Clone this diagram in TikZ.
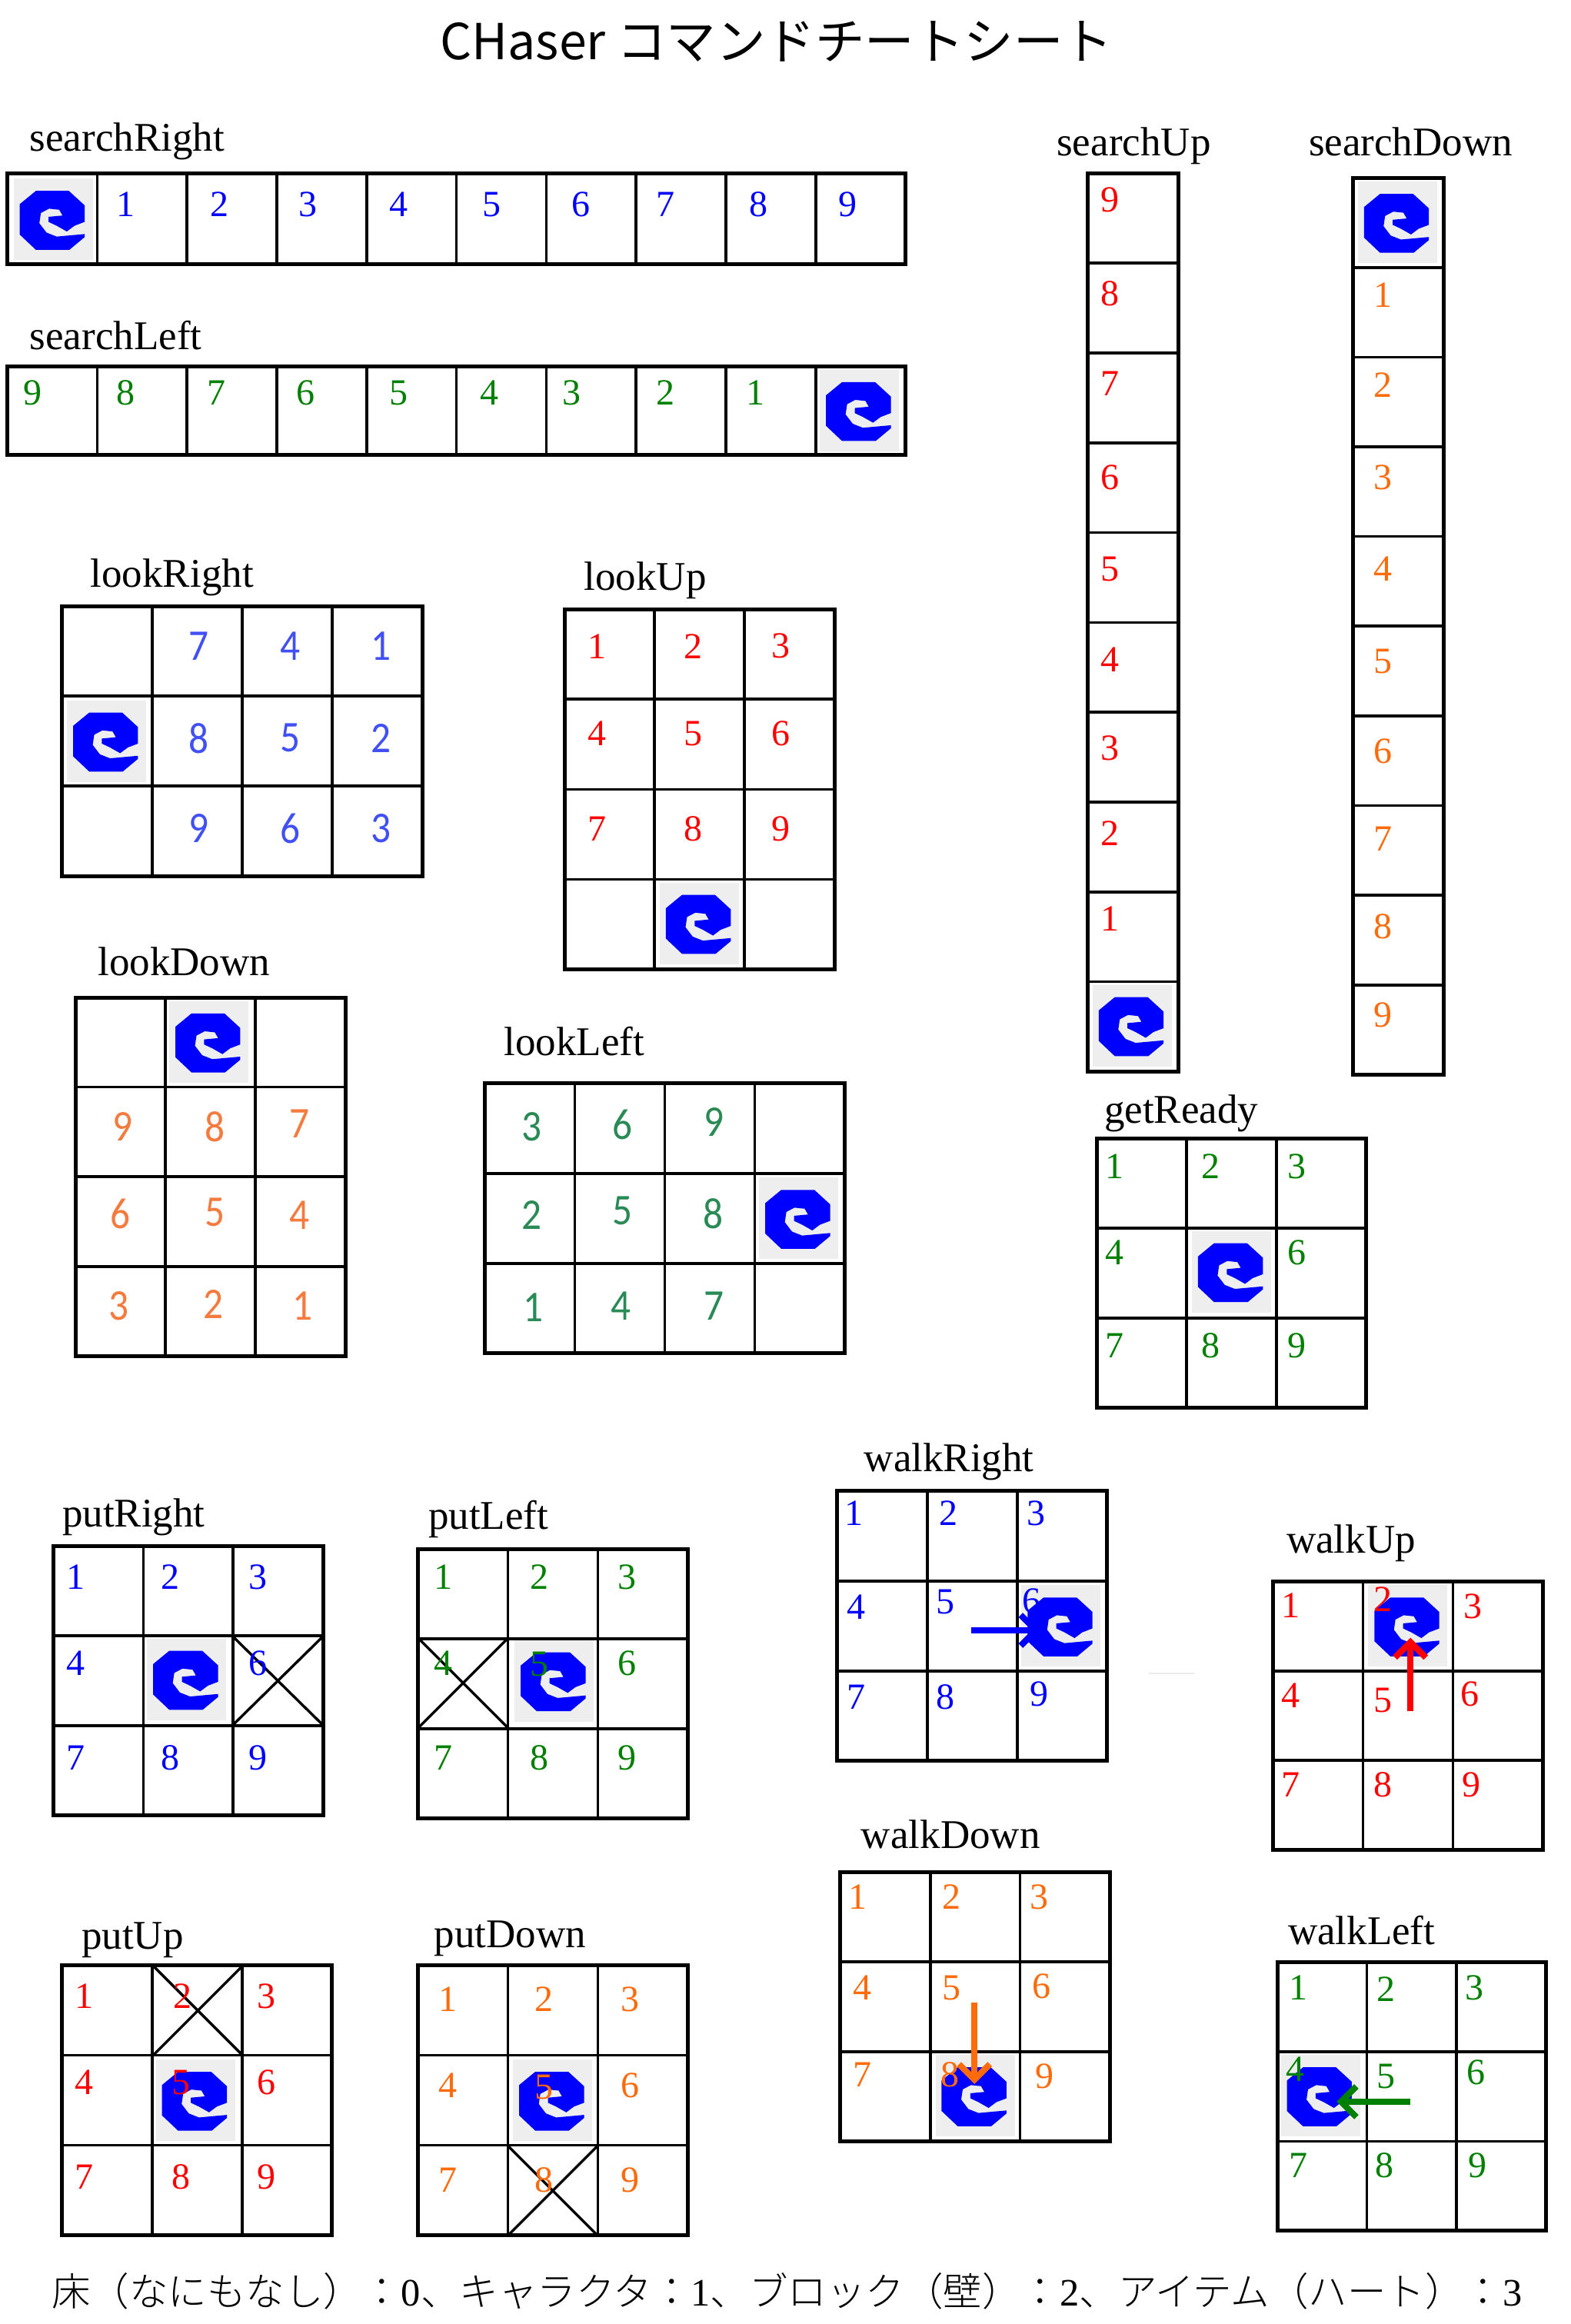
\documentclass[tikz,border=0pt]{standalone}
\usepackage{fontspec}
\setmainfont{Liberation Serif}
\newfontfamily\calib[FakeStretch=0.9]{Carlito}
\newfontfamily\jpsans{Noto Sans CJK JP}
\newfontfamily\jplight[UprightFont=* Light]{Noto Sans CJK JP}
\usetikzlibrary{arrows.meta}
\definecolor{cBlue}{HTML}{0000FF}
\definecolor{cGreen}{HTML}{008000}
\definecolor{cRed}{HTML}{FF0000}
\definecolor{cOrange}{HTML}{FF6A0A}
\definecolor{cLBlue}{HTML}{4050F4}
\definecolor{cLOrange}{HTML}{F47A3E}
\definecolor{cLGreen}{HTML}{2A8A55}
\definecolor{cIconBg}{HTML}{EEEEEE}
\tikzset{
  outerline/.style={draw=black,line width=5pt},
  innerline/.style={draw=black,line width=3.6pt},
  crossline/.style={draw=black,line width=3.4pt},
  cmdlabel/.style={anchor=base west,inner sep=0pt,font=\fontsize{53}{60}\selectfont},
  serifdigit/.style={inner sep=0pt,font=\fontsize{48}{56}\selectfont},
  calibdigit/.style={inner sep=0pt,font=\fontsize{57}{64}\selectfont\calib},
  robotbg/.style={fill=cIconBg,inner sep=0pt,minimum width=103pt,minimum height=106pt},
  movearrow/.style={line width=8pt,-{Straight Barb[length=20pt,width=40pt,line width=8pt]}},
}
\newcommand{\cellgrid}[6]{%x0 y0 x1 y1 cols rows
  \foreach \i in {1,...,#5}{\ifnum\i<#5\relax
    \pgfmathsetmacro{\xx}{#1+(#3-#1)*\i/#5}
    \draw[innerline] (\xx,#2) -- (\xx,#4);\fi}
  \foreach \i in {1,...,#6}{\ifnum\i<#6\relax
    \pgfmathsetmacro{\yy}{#2+(#4-#2)*\i/#6}
    \draw[innerline] (#1,\yy) -- (#3,\yy);\fi}
  \draw[outerline] (#1,#2) rectangle (#3,#4);
}
\newcommand{\robotback}[3]{\node[robotbg] (#1) at (#2,#3) {};}
\newcommand{\robotblob}[2]{%
  \begin{scope}[shift={(#1,#2)},x=1pt,y=-1pt]
  \fill[cBlue] (-22.8,-37)--(20.2,-37)--(40.7,-18.2)--(40.7,3.3)--(27.5,8.3)--(17.5,15.8)--(4.3,8.3)--(-6.3,3.3)--(-6.3,-3.3)--(11.9,-5)--(7.6,-12.5)--(-5.6,-13.9)--(-16.2,-8.3)--(-18.2,5)--(-8.9,17.2)--(4.3,22.4)--(40.7,19.1)--(40.7,23.1)--(20.9,39.6)--(-22.8,39.6)--(-43.7,19.8)--(-43.7,-19.8)--cycle;
  \end{scope}}
\newcommand{\robot}[3]{\robotback{#1}{#2}{#3}\robotblob{#2}{#3}}
\newcommand{\digs}[3]{%prefix, style+colour, list x/y/d
  \foreach \px/\py/\d in {#3}{\node[#2] (#1\d) at (\px,\py) {\d};}}
\begin{document}
\begin{tikzpicture}[x=1.9273pt,y=-1.9273pt]
\useasboundingbox (0,0) rectangle (1060,1568);
\fill[white] (0,0) rectangle (1060,1568);

\node[inner sep=0pt,font=\fontsize{64.5}{72}\selectfont\jpsans] (title) at (524,28) {CHaser コマンドチートシート};
\node[inner sep=0pt,font=\fontsize{50.5}{58}\selectfont\jplight] (legend) at (531,1546) {床（なにもなし）：\textrm{0}、キャラクタ：\textrm{1}、ブロック（壁）：\textrm{2}、アイテム（ハート）：\textrm{3}};

% labels
\node[cmdlabel] (lSR) at (20,102) {searchRight};
\node[cmdlabel] (lSL) at (20,236) {searchLeft};
\node[cmdlabel] (lSU) at (713,105) {searchUp};
\node[cmdlabel] (lSD) at (883,105) {searchDown};
\node[cmdlabel] (lLR) at (61,396) {lookRight};
\node[cmdlabel] (lLU) at (394,398) {lookUp};
\node[cmdlabel] (lLD) at (66,658) {lookDown};
\node[cmdlabel] (lLL) at (340,712) {lookLeft};
\node[cmdlabel] (lGR) at (745,758) {getReady};
\node[cmdlabel] (lWR) at (583,993) {walkRight};
\node[cmdlabel] (lWU) at (868,1048) {walkUp};
\node[cmdlabel] (lPR) at (42,1030) {putRight};
\node[cmdlabel] (lPL) at (289,1032) {putLeft};
\node[cmdlabel] (lWD) at (581,1247) {walkDown};
\node[cmdlabel] (lWL) at (869,1312) {walkLeft};
\node[cmdlabel] (lPU) at (55,1315) {putUp};
\node[cmdlabel] (lPD) at (293,1314) {putDown};

% icons
\robot{rSR}{36}{148}
\robot{rSL}{580}{277}
\robot{rSU}{764}{692}
\robot{rSD}{943}{150}
\robot{rLR}{72}{500}
\robot{rLU}{472}{623}
\robot{rLD}{141}{703}
\robot{rLL}{539}{822}
\robot{rGR}{831}{858}
\robot{rWU}{950}{1097}
\robot{rPR}{126}{1133}
\robot{rPL}{374}{1134}
\robot{rWD}{658}{1414}
\robot{rWL}{891}{1414}
\robot{rPU}{132}{1417}
\robot{rPD}{373}{1417}
\robotback{rWR}{716}{1097}
\node[serifdigit,cBlue] (wr6) at (696,1080) {6};
\robotblob{716}{1097}

% grids
\cellgrid{5}{117}{611}{178}{10}{1}
\cellgrid{5}{247}{611}{307}{10}{1}
\cellgrid{734}{117}{795}{723}{1}{10}
\cellgrid{913}{120}{974}{725}{1}{10}
\cellgrid{42}{409}{285}{591}{4}{3}
\cellgrid{381}{411}{563}{654}{3}{4}
\cellgrid{51}{673}{233}{915}{3}{4}
\cellgrid{327}{731}{570}{913}{4}{3}
\cellgrid{740}{768}{922}{950}{3}{3}
\cellgrid{565}{1006}{747}{1188}{3}{3}
\cellgrid{859}{1067}{1041}{1248}{3}{3}
\cellgrid{36}{1043}{218}{1225}{3}{3}
\cellgrid{282}{1045}{464}{1227}{3}{3}
\cellgrid{567}{1263}{749}{1445}{3}{3}
\cellgrid{862}{1324}{1043}{1505}{3}{3}
\cellgrid{42}{1326}{224}{1508}{3}{3}
\cellgrid{282}{1326}{464}{1508}{3}{3}

% crossed cells
\draw[crossline] (157,1104)--(218,1164) (157,1164)--(218,1104);
\draw[crossline] (282,1105)--(343,1166) (282,1166)--(343,1105);
\draw[crossline] (103,1326)--(164,1387) (103,1387)--(164,1326);
\draw[crossline] (343,1448)--(403,1508) (343,1508)--(403,1448);

% digits
\digs{sr}{serifdigit,cBlue}{85/138/1,148/138/2,208/138/3,269/138/4,332/138/5,392/138/6,449/138/7,512/138/8,572/138/9}
\digs{sl}{serifdigit,cGreen}{22/265/9,85/265/8,146/265/7,206/265/6,269/265/5,330/265/4,386/265/3,449/265/2,510/265/1}
\digs{su}{serifdigit,cRed}{749/135/9,749/198/8,749/259/7,749/322/6,749/384/5,749/445/4,749/505/3,749/562/2,749/620/1}
\digs{sd}{serifdigit,cOrange}{933/199/1,933/260/2,933/322/3,933/384/4,933/446/5,933/507/6,933/566/7,933/625/8,933/685/9}
\digs{lr}{calibdigit,cLBlue}{134/436/7,196/436/4,257/436/1,134/498/8,196/498/5,257/498/2,134/559/9,196/559/6,257/559/3}
\digs{lu}{serifdigit,cRed}{403/436/1,468/436/2,527/436/3,403/495/4,468/495/5,527/495/6,403/559/7,468/559/8,527/559/9}
\digs{ld}{calibdigit,cLOrange}{83/760/9,145/760/8,202/758/7,81/819/6,145/818/5,202/820/4,80/881/3,144/880/2,204/881/1}
\digs{ll}{calibdigit,cLGreen}{359/760/3,420/759/6,482/757/9,359/820/2,420/817/5,481/819/8,360/882/1,419/881/4,482/881/7}
\digs{gr}{serifdigit,cGreen}{752/787/1,817/787/2,875/787/3,752/845/4,875/845/6,752/908/7,817/908/8,875/908/9}
\digs{wr}{serifdigit,cBlue}{576/1021/1,640/1021/2,699/1021/3,578/1084/4,638/1081/5,578/1145/7,638/1145/8,701/1143/9}
\digs{wu}{serifdigit,cRed}{871/1083/1,933/1079/2,994/1084/3,871/1144/4,933/1147/5,992/1143/6,871/1204/7,933/1204/8,993/1204/9}
\digs{pr}{serifdigit,cBlue}{51/1064/1,115/1064/2,174/1064/3,51/1122/4,174/1122/6,51/1186/7,115/1186/8,174/1186/9}
\digs{pl}{serifdigit,cGreen}{299/1064/1,364/1064/2,423/1064/3,299/1122/4,364/1123/5,423/1122/6,299/1186/7,364/1186/8,423/1186/9}
\digs{wd}{serifdigit,cOrange}{579/1280/1,642/1280/2,701/1280/3,582/1341/4,642/1341/5,703/1340/6,582/1400/7,641/1400/8,705/1401/9}
\digs{wl}{serifdigit,cGreen}{876/1341/1,935/1342/2,995/1341/3,874/1396/4,935/1401/5,996/1398/6,876/1461/7,934/1461/8,997/1461/9}
\digs{pu}{serifdigit,cRed}{57/1347/1,123/1347/2,180/1347/3,57/1405/4,122/1405/5,180/1405/6,57/1469/7,122/1469/8,180/1469/9}
\digs{pd}{serifdigit,cOrange}{302/1349/1,367/1349/2,425/1349/3,302/1407/4,367/1408/5,425/1407/6,302/1471/7,367/1471/8,425/1471/9}

% movement arrows
\coordinate (aRs) at (655.4,1100); \coordinate (aRe) at (702,1100);
\coordinate (aUs) at (951.7,1154.6); \coordinate (aUe) at (951.7,1105);
\coordinate (aDs) at (657.5,1351); \coordinate (aDe) at (657.5,1406);
\coordinate (aLs) at (951.7,1418); \coordinate (aLe) at (901.9,1418);
\draw[movearrow,cBlue] (aRs) -- (aRe);
\draw[movearrow,cRed] (aUs) -- (aUe);
\draw[movearrow,cOrange] (aDs) -- (aDe);
\draw[movearrow,cGreen] (aLs) -- (aLe);
\coordinate (fa) at (775,1129); \coordinate (fb) at (806,1129);
\draw[line width=1.5pt,black!8] (fa) -- (fb);
\end{tikzpicture}
\end{document}
